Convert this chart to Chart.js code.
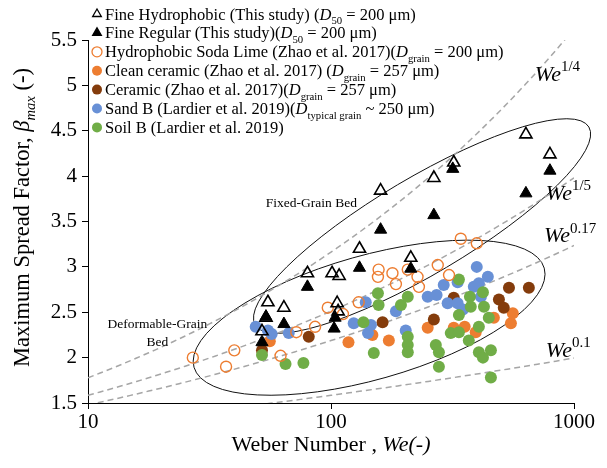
<!DOCTYPE html>
<html>
<head>
<meta charset="utf-8">
<script src="https://cdn.jsdelivr.net/npm/chart.js@4.4.1/dist/chart.umd.min.js"></script>
<style>
  html, body { margin: 0; padding: 0; background: #fff; }
  #wrap { width: 607px; height: 468px; }
</style>
</head>
<body>
<div id="wrap"><canvas id="spreadChart" width="607" height="468"></canvas></div>
<script>
// values, [We, beta_max]
const xTicks = [10, 100, 1000];
const yTicks = [1.5, 2, 2.5, 3, 3.5, 4, 4.5, 5, 5.5];

const fineHydrophobic = [[634,4.46],[796,4.24],[320,4.15],[265,3.98],[160,3.84],[131,3.20],[80,2.93],[101,2.93],[108,2.90],[213,3.10],[55,2.61],[64,2.55],[106,2.60],[107,2.51],[54,2.44],[52,2.29]];
const fineRegular = [[796,4.06],[634,3.81],[317,4.08],[265,3.57],[160,3.41],[131,2.99],[80,2.78],[213,2.98],[54,2.45],[64,2.37],[52,2.17],[104,2.44],[103,2.32]];
const sodaLime = [[27,2.00],[37,1.90],[40,2.08],[62,2.02],[72,2.28],[86,2.34],[97,2.55],[112,2.48],[130,2.61],[156,2.89],[157,2.97],[179,2.93],[185,2.81],[207,2.97],[227,2.89],[230,2.78],[275,3.02],[306,2.91],[342,3.31],[398,3.26]];
const cleanCeramic = [[56,2.18],[118,2.17],[148,2.25],[173,2.19],[250,2.33],[320,2.33],[355,2.34],[394,2.28],[468,2.44],[550,2.38],[560,2.49]];
const ceramic = [[52,2.08],[81,2.23],[163,2.39],[265,2.42],[320,2.66],[491,2.64],[514,2.55],[540,2.77],[652,2.77]];
const sandB = [[49,2.34],[55,2.30],[57,2.26],[67,2.27],[124,2.38],[142,2.27],[146,2.36],[139,2.61],[185,2.51],[203,2.30],[250,2.67],[272,2.69],[291,2.80],[302,2.60],[332,2.60],[332,2.83],[398,3.00],[442,2.89],[414,2.67],[387,2.78],[349,2.53],[406,2.82]];
const soilB = [[52,2.03],[65,1.93],[77,1.94],[136,2.39],[156,2.71],[157,2.58],[194,2.58],[207,2.67],[207,2.23],[207,2.14],[207,2.06],[150,2.05],[270,2.14],[278,2.06],[278,1.90],[311,2.27],[336,2.28],[369,2.19],[336,2.47],[336,2.86],[422,2.72],[373,2.67],[376,2.56],[426,2.56],[446,2.44],[406,2.34],[406,2.06],[455,2.08],[422,2.00],[455,1.78]];

// guide curves beta = We^n
const scalingExponents = [1 / 4, 1 / 5, 0.17, 0.1];
const scalingLabels = ['1/4', '1/5', '0.17', '0.1'];
const scalingLabelAt = [[690, 5.14], [766, 3.83], [752, 3.36], [766, 2.10]];

const FONT = "'Liberation Serif', 'Times New Roman', serif";

const toXY = arr => arr.map(p => ({ x: p[0], y: p[1] }));

// sample the power laws along the log axis
const weGrid = [];
for (let i = 0; i <= 80; i++) weGrid.push(Math.pow(10, 1 + i / 40));

const curveSets = scalingExponents.map(n => ({
    type: 'line',
    data: weGrid.map(we => ({ x: we, y: Math.pow(we, n) })),
    borderColor: '#a6a6a6',
    borderWidth: 1.5,
    borderDash: [6, 4],
    pointRadius: 0,
    tension: 0,
    fill: false
}));

function pts(data, style, radius, fill, stroke, bw) {
    return {
        data: toXY(data),
        showLine: false,
        pointStyle: style,
        pointRadius: radius,
        pointBackgroundColor: fill,
        pointBorderColor: stroke,
        pointBorderWidth: bw
    };
}

const datasets = [
    pts(fineHydrophobic, 'triangle', 7, 'rgba(255,255,255,0)', '#000', 1.6),
    pts(fineRegular, 'triangle', 7, '#000', '#000', 1),
    pts(sodaLime, 'circle', 5.5, 'rgba(255,255,255,0)', '#ed7d31', 1.4),
    pts(soilB, 'circle', 6, '#70ad47', '#70ad47', 0),
    pts(sandB, 'circle', 6, '#6890d6', '#6890d6', 0),
    pts(ceramic, 'circle', 6, '#843c0c', '#843c0c', 0),
    pts(cleanCeramic, 'circle', 6, '#ed7d31', '#ed7d31', 0),
    ...curveSets
];

// the two hand-drawn zones: centre in data units, radii in px, tilt in degrees
const bedZones = [
    { center: [237, 3.45], rx: 194, ry: 48, tilt: 30.7, text: ['Fixed-Grain Bed'], textAt: [83, 3.715] },
    { center: [143.5, 2.44], rx: 182, ry: 62, tilt: 15.8, text: ['Deformable-Grain', 'Bed'], textAt: [19.3, 2.38] }
];

const legendRows = [
    { mark: 'tri', fill: null, stroke: '#000', parts: ['Fine Hydrophobic (This study) (', { t: 'D', it: 1 }, { t: '50', sub: 1 }, ' = 200 μm)'] },
    { mark: 'tri', fill: '#000', stroke: '#000', parts: ['Fine Regular (This study)(', { t: 'D', it: 1 }, { t: '50', sub: 1 }, ' = 200 μm)'] },
    { mark: 'dot', fill: null, stroke: '#ed7d31', parts: ['Hydrophobic Soda Lime (Zhao et al. 2017)(', { t: 'D', it: 1 }, { t: 'grain', sub: 1 }, ' = 200 μm)'] },
    { mark: 'dot', fill: '#ed7d31', parts: ['Clean ceramic (Zhao et al. 2017) (', { t: 'D', it: 1 }, { t: 'grain', sub: 1 }, ' = 257 μm)'] },
    { mark: 'dot', fill: '#843c0c', parts: ['Ceramic (Zhao et al. 2017)(', { t: 'D', it: 1 }, { t: 'grain', sub: 1 }, ' = 257 μm)'] },
    { mark: 'dot', fill: '#6890d6', parts: ['Sand B (Lardier et al. 2019)(', { t: 'D', it: 1 }, { t: 'typical grain', sub: 1 }, ' ~ 250 μm)'] },
    { mark: 'dot', fill: '#70ad47', parts: ['Soil B (Lardier et al. 2019)'] }
];

function fontFor(p, size) {
    const s = p.sub || p.sup ? size * 0.65 : size;
    return (p.it ? 'italic ' : '') + (p.size || s) + 'px ' + FONT;
}

function drawRich(ctx, parts, x, y, size, align) {
    parts = parts.map(p => typeof p === 'string' ? { t: p } : p);
    let w = 0;
    parts.forEach(p => { ctx.font = fontFor(p, size); w += ctx.measureText(p.t).width; });
    let cx = align === 'center' ? x - w / 2 : x;
    ctx.textAlign = 'left';
    ctx.textBaseline = 'alphabetic';
    parts.forEach(p => {
        ctx.font = fontFor(p, size);
        const dy = p.sub ? size * 0.28 : p.sup ? -size * 0.42 : 0;
        ctx.fillText(p.t, cx, y + dy);
        cx += ctx.measureText(p.t).width;
    });
}

function drawMark(ctx, row, x, y, r) {
    ctx.beginPath();
    if (row.mark === 'tri') {
        ctx.moveTo(x, y - r);
        ctx.lineTo(x + r * 0.866, y + r * 0.5);
        ctx.lineTo(x - r * 0.866, y + r * 0.5);
        ctx.closePath();
    } else {
        ctx.arc(x, y, r, 0, Math.PI * 2);
    }
    if (row.fill) { ctx.fillStyle = row.fill; ctx.fill(); }
    if (row.stroke) { ctx.strokeStyle = row.stroke; ctx.lineWidth = 1.3; ctx.stroke(); }
}

const zonePlugin = {
    id: 'zones',
    beforeDatasetsDraw(chart) {
        const ctx = chart.ctx, xs = chart.scales.x, ys = chart.scales.y;
        ctx.save();
        ctx.strokeStyle = '#111';
        ctx.lineWidth = 1;
        bedZones.forEach(z => {
            ctx.beginPath();
            ctx.ellipse(xs.getPixelForValue(z.center[0]), ys.getPixelForValue(z.center[1]),
                z.rx, z.ry, -z.tilt * Math.PI / 180, 0, Math.PI * 2);
            ctx.stroke();
        });
        ctx.restore();
    }
};

const textPlugin = {
    id: 'texts',
    afterDraw(chart) {
        const ctx = chart.ctx, xs = chart.scales.x, ys = chart.scales.y;
        ctx.save();
        ctx.fillStyle = '#000';

        // legend, top left inside the plot
        legendRows.forEach((row, i) => {
            const cy = 14 + i * 18.9;
            drawMark(ctx, row, 97, cy, 5);
            ctx.fillStyle = '#000';
            drawRich(ctx, row.parts, 105, cy + 5.5, 16.5, 'left');
        });

        // zone captions
        bedZones.forEach(z => {
            const x = xs.getPixelForValue(z.textAt[0]);
            let y = ys.getPixelForValue(z.textAt[1]);
            z.text.forEach(line => {
                drawRich(ctx, [line], x, y + 5, 13.5, 'center');
                y += 18;
            });
        });

        // exponent labels
        scalingLabels.forEach((lab, i) => {
            const at = scalingLabelAt[i];
            drawRich(ctx, [{ t: 'We', it: 1, size: 22 }, { t: lab, sup: 1, size: 15 }],
                xs.getPixelForValue(at[0]), ys.getPixelForValue(at[1]) + 8, 22, 'left');
        });

        // axis titles
        drawRich(ctx, ['Weber Number , ', { t: 'We(-)', it: 1 }],
            (chart.chartArea.left + chart.chartArea.right) / 2, 451, 22, 'center');
        ctx.translate(29, (chart.chartArea.top + chart.chartArea.bottom) / 2 - 4);
        ctx.rotate(-Math.PI / 2);
        drawRich(ctx, ['Maximum Spread Factor, ', { t: 'β', it: 1 }, { t: 'max', it: 1, sub: 1 }, ' (-)'], 0, 0, 22.5, 'center');
        ctx.restore();
    }
};

new Chart(document.getElementById('spreadChart').getContext('2d'), {
    type: 'scatter',
    data: { datasets: datasets },
    options: {
        responsive: false,
        animation: false,
        layout: { padding: { top: 40, right: 33, bottom: 0, left: 0 } },
        plugins: { legend: { display: false }, tooltip: { enabled: false } },
        scales: {
            x: {
                type: 'logarithmic',
                min: 10,
                max: 1000,
                afterBuildTicks: s => { s.ticks = xTicks.map(v => ({ value: v })); },
                afterFit: s => { s.height = 65; },
                ticks: { callback: v => String(v), color: '#000', font: { family: FONT, size: 21 }, maxRotation: 0, autoSkip: false, padding: 1 },
                grid: { drawOnChartArea: false, color: '#000', tickLength: 6 },
                border: { color: '#000', width: 1 }
            },
            y: {
                min: 1.5,
                max: 5.5,
                afterBuildTicks: s => { s.ticks = yTicks.map(v => ({ value: v })); },
                afterFit: s => { s.width = 88; },
                ticks: { callback: v => String(v), color: '#000', font: { family: FONT, size: 21 }, padding: 5 },
                grid: { drawOnChartArea: false, color: '#000', tickLength: 6 },
                border: { color: '#000', width: 1 }
            }
        }
    },
    plugins: [zonePlugin, textPlugin]
});
</script>
</body>
</html>
